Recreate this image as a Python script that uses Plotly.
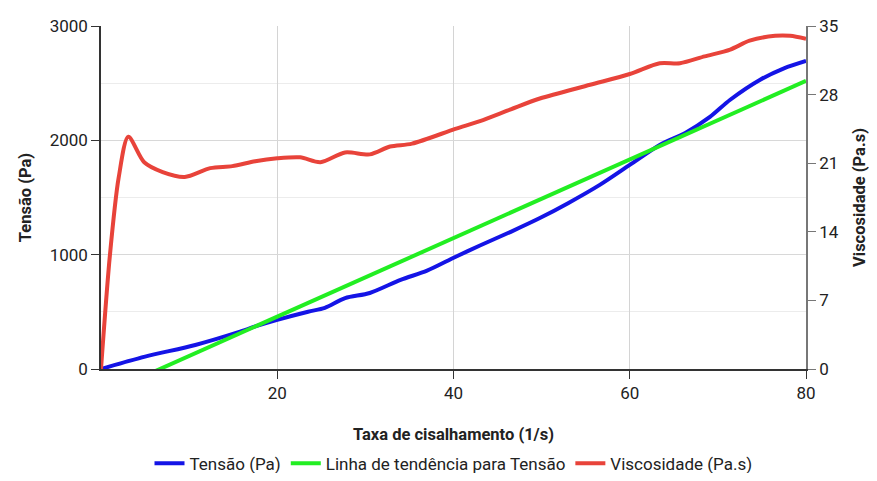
import plotly.graph_objects as go

# Taxa de cisalhamento (1/s) e leituras estimadas
taxa_tensao = [0, 5, 10.7, 15.6, 17.5, 20, 23.5, 25.4, 27.7, 30.5, 34, 37, 40.2, 43,
               46.5, 49.8, 53, 56.6, 60, 63.4, 66.3, 69.1, 71.4, 74.8, 77.5, 80]
tensao = [0, 108, 210, 322, 372, 430, 501, 535, 620, 665, 780, 860, 980, 1080,
          1200, 1320, 1450, 1610, 1785, 1960, 2065, 2205, 2355, 2530, 2630, 2695]

taxa_tendencia = [0, 80]
tendencia = [-230, 2520]

taxa_visc = [0, 1.0, 2.0, 3.1, 4.9, 7, 9.5, 12.4, 14.9, 17.5, 20, 22.6, 24.9, 27.7, 30.5,
             32.8, 35.3, 40.2, 43, 46.5, 49.8, 55.5, 60, 63.4, 65.7, 68.5, 71.4, 73.6, 76.5, 78.2, 80]
viscosidade = [0, 11.5, 19.5, 23.7, 21.1, 20.1, 19.6, 20.5, 20.7, 21.2, 21.5, 21.6, 21.1, 22.1, 21.9,
               22.7, 23.0, 24.5, 25.3, 26.5, 27.6, 29.0, 30.1, 31.2, 31.2, 31.9, 32.6, 33.5, 34.0, 34.0, 33.7]

fig = go.Figure()

fig.add_trace(go.Scatter(x=taxa_tensao, y=tensao, name="Tensão (Pa)", mode="lines",
                         line=dict(color="#1414e6", width=4, shape="spline", smoothing=0.8)))
fig.add_trace(go.Scatter(x=taxa_tendencia, y=tendencia, name="Linha de tendência para Tensão",
                         mode="lines", line=dict(color="#22ee22", width=4)))
fig.add_trace(go.Scatter(x=taxa_visc, y=viscosidade, name="Viscosidade (Pa.s)", mode="lines",
                         yaxis="y2",
                         line=dict(color="#e8433a", width=4, shape="spline", smoothing=0.8)))

# a página tem 8px de margem no body, por isso a figura é menor que a janela
fig.update_layout(
    width=861, height=465,
    margin=dict(l=93, r=63, t=18, b=104, autoexpand=False),
    plot_bgcolor="white", paper_bgcolor="white",
    font=dict(family="Roboto", size=17, color="#222222"),
    showlegend=True,
    legend=dict(orientation="h", x=0.5, xanchor="center", y=-0.276, yanchor="middle",
                font=dict(size=17), itemwidth=30),
    xaxis=dict(range=[0, 80], tickvals=[20, 40, 60, 80], showgrid=True, gridcolor="#d4d4d4",
               showline=True, linecolor="#333333", linewidth=1.5, ticks="outside",
               ticklen=8, tickcolor="#333333", zeroline=False, automargin=False,
               title=dict(text="<b>Taxa de cisalhamento (1/s)</b>", font=dict(size=16.5),
                          standoff=26)),
    yaxis=dict(range=[0, 3000], tickvals=[0, 1000, 2000, 3000], showgrid=True,
               gridcolor="#d8d8d8", showline=True, linecolor="#333333", linewidth=1.5,
               ticks="outside", ticklen=8, tickcolor="#333333", zeroline=False, automargin=False,
               minor=dict(dtick=500, showgrid=True, gridcolor="#ececec", ticks=""),
               title=dict(text="<b>Tensão (Pa)</b>", font=dict(size=16.5), standoff=14)),
    yaxis2=dict(range=[0, 35], tickvals=[0, 7, 14, 21, 28, 35], overlaying="y", side="right",
                showgrid=False, showline=True, linecolor="#777777", linewidth=1.5,
                ticks="outside", ticklen=8, tickcolor="#777777", zeroline=False, automargin=False,
                title=dict(text="<b>Viscosidade (Pa.s)</b>", font=dict(size=16.5), standoff=20)),
)

fig.write_html("out.html")
